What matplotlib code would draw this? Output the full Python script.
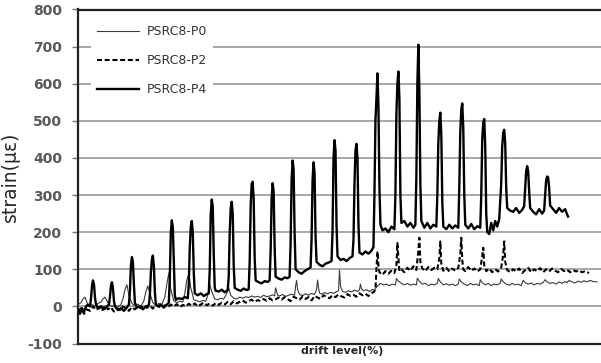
import matplotlib
matplotlib.use("Agg")
import matplotlib.pyplot as plt

# ---------------- data (sample position, strain in micro-strain) ----------------
p4_x = [0, 2, 4, 6, 8, 10, 12,
        13, 14, 15, 16, 17, 18, 20, 23, 26, 29, 31,
        32, 33, 34, 35, 36, 37, 40, 43, 46, 49, 51,
        52, 53, 54, 55, 56, 57, 59, 62, 65, 68, 71,
        72, 73, 74, 75, 76, 77, 78, 80, 83, 86, 89, 91,
        92, 93, 94, 95, 96, 97, 98, 101, 104, 107, 110,
        111, 112, 113, 114, 115, 116, 117, 120, 123, 126, 129, 131,
        132, 133, 134, 135, 136, 137, 138, 141, 144, 147, 150,
        151, 152, 153, 154, 155, 156, 157, 160, 163, 166, 169, 171,
        172, 173, 174, 175, 176, 177, 178, 181, 184, 187, 190, 192,
        193, 194, 195, 196, 197, 198, 201, 204, 207, 210, 212,
        213, 214, 215, 216, 217, 218, 221, 224, 227, 230, 233,
        234, 235, 236, 237, 238, 239, 242, 245, 248, 251, 254,
        255, 256, 257, 258, 259, 260, 263, 266, 269, 272, 275,
        276, 277, 278, 279, 280, 281, 282, 285, 288, 291, 294, 296,
        297, 298, 299, 300, 301, 302, 303, 305, 308, 311, 314, 317,
        318, 319, 320, 321, 322, 323, 324, 327, 330, 333, 336, 338,
        339, 340, 341, 342, 343, 344, 347, 350, 353, 356, 359,
        360, 361, 362, 363, 364, 365, 366, 369, 372, 375, 378, 381,
        382, 383, 384, 385, 386, 387, 388, 391, 394, 397, 400, 403,
        404, 405, 406, 407, 408, 409, 410, 412, 414, 416, 418, 420, 422,
        424, 425, 426, 427, 428, 429, 430, 433, 436, 439, 442, 445, 447,
        448, 449, 450, 451, 452, 453, 456, 459, 462, 465, 467,
        468, 469, 470, 471, 472, 473, 476, 479, 482, 485, 488, 490, 491]
p4_y = [-10, -20, -5, -15, 0, 5, 0,
        20, 55, 70, 60, 25, 5, -5, 0, -8, 0, 5,
        25, 55, 65, 50, 15, 0, -10, -5, -12, -3, 5,
        40, 110, 133, 120, 60, 10, -3, 0, -8, 0, 3,
        30, 90, 125, 137, 110, 40, 5, 0, 5, -3, 5, 10,
        80, 200, 232, 215, 120, 30, 18, 22, 20, 25, 22,
        60, 160, 215, 230, 200, 90, 35, 30, 35, 28, 33, 35,
        100, 250, 288, 270, 140, 50, 42, 40, 45, 38, 44,
        80, 200, 265, 282, 250, 110, 50, 45, 42, 48, 44, 46,
        120, 270, 330, 336, 290, 130, 70, 65, 62, 68, 66, 70,
        150, 290, 332, 310, 160, 80, 75, 72, 78, 76, 80,
        170, 340, 393, 370, 200, 100, 92, 88, 95, 100, 105,
        180, 340, 388, 360, 190, 120, 112, 108, 115, 118, 122,
        200, 400, 448, 420, 220, 135, 125, 128, 122, 130, 135,
        180, 330, 420, 438, 400, 220, 145, 140, 148, 142, 150, 160,
        300, 500, 560, 628, 540, 320, 220, 205, 210, 200, 215, 208,
        300, 520, 600, 633, 560, 300, 225, 230, 215, 225, 212, 220,
        350, 600, 705, 580, 330, 230, 212, 225, 210, 220, 215,
        300, 440, 500, 522, 460, 280, 215, 208, 220, 210, 218, 212,
        320, 470, 530, 547, 480, 300, 220, 210, 222, 208, 216, 212,
        300, 450, 495, 505, 430, 250, 200, 195, 225, 205, 230, 215, 235,
        330, 430, 468, 476, 440, 320, 265, 258, 255, 265, 252, 260, 270,
        320, 365, 378, 365, 310, 265, 255, 248, 262, 250, 258,
        300, 340, 350, 348, 320, 272, 262, 252, 265, 255, 262, 248, 242]

p2_x = [0, 3, 6, 9, 12, 15, 18, 21, 24, 27, 30, 33, 36, 39, 42, 45, 48, 51, 54, 57,
        60, 63, 66, 69, 72, 75, 78, 81, 84, 87, 90, 93, 96, 99, 102, 105, 108, 111,
        114, 117, 120, 123, 126, 129, 132, 135, 138, 141, 144, 147, 150, 153, 156,
        159, 162, 165, 168, 171, 174, 177, 180, 183, 186, 189, 192, 195, 198, 201,
        204, 207, 210, 213, 216, 219, 222, 225, 228, 231, 234, 237, 240, 243, 246,
        249, 252, 255, 258, 261, 264, 267, 270, 273, 276, 279, 282, 285, 288, 291,
        294, 296, 298, 299, 300, 301, 302, 305, 308, 311, 314, 317, 319, 320, 321,
        322, 324, 327, 330, 333, 336, 339, 341, 342, 343, 345, 348, 351, 354, 357,
        360, 362, 363, 364, 366, 369, 372, 375, 378, 381, 383, 384, 385, 386, 388,
        391, 394, 397, 400, 403, 405, 406, 407, 409, 412, 415, 418, 421, 424, 426,
        427, 428, 430, 433, 436, 439, 442, 445, 448, 451, 454, 457, 460, 463, 466,
        469, 472, 475, 478, 481, 484, 487, 490, 493, 496, 499, 502, 505, 508, 512]
p2_y = [-15, -5, -20, -8, -12, 0, -10, -3, -12, 2, -8, -2, -14, -5, -10, 0, -6, -12, -2, -8,
        0, -5, 3, -4, 2, -6, 4, 0, -5, 3, -2, 5, 0, 6, -2, 4, 0, 7,
        2, 8, 0, 5, 10, 3, 8, 2, 9, 4, 10, 5, 12, 6, 14,
        8, 12, 16, 10, 15, 18, 12, 17, 14, 20, 15, 22, 16, 19, 24,
        18, 25, 20, 14, 26, 22, 18, 27, 20, 25, 16, 28, 24, 20, 30,
        26, 22, 30, 25, 32, 27, 24, 33, 28, 31, 26, 35, 30, 34, 28,
        36, 38, 45, 100, 148, 110, 92, 85, 95, 88, 96, 90, 110, 171, 130,
        95, 100, 92, 104, 96, 108, 98, 150, 185, 120, 102, 95, 106, 98, 104,
        100, 130, 175, 115, 96, 104, 94, 102, 96, 104, 140, 185, 125, 100, 95,
        106, 96, 102, 94, 100, 135, 158, 110, 95, 102, 92, 100, 94, 104, 140,
        175, 120, 98, 92, 100, 94, 102, 90, 98, 104, 92, 100, 95, 103, 92,
        100, 94, 102, 96, 92, 101, 95, 99, 92, 98, 94, 97, 92, 95, 90]

p0_x = [0, 3, 5, 7, 9, 11, 14, 17, 20, 23, 25, 27, 29, 31, 34, 37, 40, 43, 45, 47,
        49, 51, 54, 57, 60, 63, 66, 68, 70, 72, 75, 78, 81, 84, 87, 89, 91, 93, 96,
        99, 102, 105, 107, 109, 111, 113, 116, 119, 122, 125, 128, 130, 132, 134,
        137, 140, 143, 146, 149, 151, 153, 156, 159, 162, 165, 168, 171, 174, 177,
        180, 183, 186, 189, 192, 195, 197, 198, 199, 200, 202, 205, 208, 211, 214,
        217, 218, 219, 220, 222, 225, 228, 231, 234, 237, 239, 240, 241, 242, 244,
        247, 250, 253, 256, 259, 261, 262, 263, 265, 268, 271, 274, 277, 280, 282,
        283, 284, 286, 289, 292, 295, 297, 298, 300, 303, 306, 309, 312, 315, 318,
        319, 321, 324, 327, 330, 333, 336, 339, 340, 342, 345, 348, 351, 354, 357,
        360, 361, 363, 366, 369, 372, 375, 378, 381, 382, 384, 387, 390, 393, 396,
        399, 402, 403, 405, 408, 411, 414, 417, 420, 423, 424, 426, 429, 432, 435,
        438, 441, 444, 446, 448, 451, 454, 457, 460, 463, 466, 468, 470, 473, 476,
        479, 482, 485, 488, 490, 492, 495, 498, 501, 504, 507, 510, 513, 516, 520]
p0_y = [5, 10, 20, 25, 10, 0, 5, 0, 8, 12, 20, 25, 15, 5, 0, 3, -2, 5, 20, 45,
        58, 30, 8, 2, 6, 0, 15, 40, 55, 35, 10, 3, 8, 5, 25, 60, 90, 45, 15,
        10, 14, 12, 35, 70, 88, 50, 18, 15, 12, 16, 14, 30, 60, 40, 20, 18, 22,
        20, 35, 50, 30, 22, 20, 25, 22, 26, 24, 28, 25,
        27, 24, 30, 26, 28, 31, 28, 50, 40, 30, 28, 32, 27, 30, 33,
        30, 55, 70, 45, 32, 29, 34, 30, 35, 32, 45, 71, 50, 36, 33,
        37, 34, 38, 35, 40, 42, 98, 55, 40, 38, 42, 39, 44, 40, 45,
        60, 48, 42, 45, 40, 46, 43, 48, 55, 62, 58, 60, 56, 60, 58,
        75, 68, 62, 58, 62, 57, 60, 58, 76, 68, 60, 62, 56, 60, 58,
        62, 75, 66, 58, 61, 57, 60, 56, 60, 74, 66, 60, 56, 62, 58,
        60, 56, 72, 64, 58, 62, 56, 60, 58, 62, 74, 66, 60, 57, 62,
        58, 60, 56, 70, 64, 60, 63, 58, 62, 60, 64, 72, 66, 62, 64,
        60, 66, 62, 67, 64, 70, 66, 63, 68, 65, 69, 66, 70, 67, 66]

series_labels = ["PSRC8-P0", "PSRC8-P2", "PSRC8-P4"]
y_ticks = [-100, 0, 100, 200, 300, 400, 500, 600, 700, 800]
x_label = "drift level(%)"
y_label = "strain(\u03bc\u03b5)"

# ---------------- plot ----------------
plt.rcParams['font.family'] = ['DejaVu Sans']
plt.rcParams['axes.unicode_minus'] = False

fig = plt.figure(figsize=(6.01, 3.63), dpi=100)
ax = fig.add_axes([78 / 601, 1 - 343.5 / 363, 1 - 78 / 601 + 0.01, (343.5 - 9.5) / 363])

ax.plot(p0_x, p0_y, color='#3a3a3a', lw=0.8, label=series_labels[0], zorder=3)
ax.plot(p2_x, p2_y, color='black', lw=1.5, ls=(0, (2.4, 1.3)), label=series_labels[1], zorder=4)
ax.plot(p4_x, p4_y, color='black', lw=1.7, label=series_labels[2], zorder=5)

ax.set_xlim(0, 530)
ax.set_ylim(-100, 800)
ax.set_yticks(y_ticks)
ax.set_xticks([])
ax.yaxis.grid(True, color='#a8a8a8', lw=1.4)
ax.set_axisbelow(True)

for s in ['left', 'top', 'bottom']:
    ax.spines[s].set_color('#222222')
    ax.spines[s].set_linewidth(1.6)
ax.spines['right'].set_visible(False)

ax.tick_params(axis='y', length=4.5, width=1.0, color='#777777', pad=7,
               labelsize=10, labelcolor='#595959')
for lbl in ax.get_yticklabels():
    lbl.set_fontweight('bold')

ax.set_ylabel(y_label, fontsize=13.5, color='#262626')
ax.yaxis.set_label_coords(-0.11, 0.5)
ax.set_xlabel(x_label, fontsize=8, fontweight='bold', color='#262626', labelpad=2)

leg = ax.legend(loc='upper left', bbox_to_anchor=(0.025, 0.972), fontsize=9,
                frameon=True, facecolor='white', edgecolor='none', framealpha=1,
                handlelength=3.3, handletextpad=0.64, labelspacing=1.29,
                borderpad=0.5, borderaxespad=0.0)
for t in leg.get_texts():
    t.set_color('#333333')
leg.set_zorder(10)

fig.savefig('out.png', dpi=100)
